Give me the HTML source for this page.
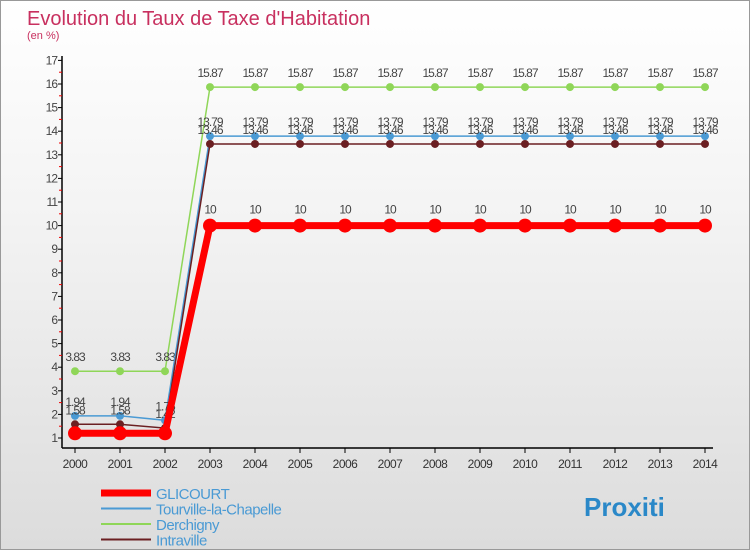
<!DOCTYPE html>
<html><head><meta charset="utf-8"><style>
body{margin:0;width:750px;height:550px;overflow:hidden;font-family:"Liberation Sans",sans-serif}
#wrap{position:relative;width:748px;height:548px;border:1px solid #999;background:linear-gradient(#fff 0%,#f3f3f3 40%,#dcdcdc 100%)}
</style></head><body>
<div id="wrap">
<svg id="c" width="748" height="548" style="position:absolute;left:0;top:0"></svg>
</div>
<script>
const years=[2000,2001,2002,2003,2004,2005,2006,2007,2008,2009,2010,2011,2012,2013,2014];
const glicourt=[1.2,1.2,1.2,10,10,10,10,10,10,10,10,10,10,10,10];
const tourville=[1.94,1.94,1.75,13.79,13.79,13.79,13.79,13.79,13.79,13.79,13.79,13.79,13.79,13.79,13.79];
const derchigny=[3.83,3.83,3.83,15.87,15.87,15.87,15.87,15.87,15.87,15.87,15.87,15.87,15.87,15.87,15.87];
const intraville=[1.58,1.58,1.42,13.46,13.46,13.46,13.46,13.46,13.46,13.46,13.46,13.46,13.46,13.46,13.46];
const yTicks=[1,2,3,4,5,6,7,8,9,10,11,12,13,14,15,16,17];
const NS='http://www.w3.org/2000/svg';
const svg=document.getElementById('c');
const X=i=>74+i*45, Y=v=>437-(v-1)*23.6;
function el(t,a,p){const e=document.createElementNS(NS,t);for(const k in a)e.setAttribute(k,a[k]);(p||svg).appendChild(e);return e;}
let t=el('text',{x:26,y:24,'font-size':20,fill:'#c8305f'});t.textContent='Evolution du Taux de Taxe d\'Habitation';

t=el('text',{x:26,y:38,'font-size':11,fill:'#c8305f'});t.textContent='(en %)';

let ax=el('line',{x1:61,y1:55,x2:61,y2:447,stroke:'#000','stroke-width':1.5});

ax=el('line',{x1:61,y1:447,x2:712,y2:447,stroke:'#000','stroke-width':1.5});

yTicks.forEach(v=>{el('line',{x1:57,x2:61,y1:Y(v),y2:Y(v),stroke:'#000'});
 if(v<17)el('line',{x1:58,x2:61,y1:Y(v+0.5),y2:Y(v+0.5),stroke:'#e00'});
 const l=el('text',{x:56,y:Y(v)+4,'font-size':12,fill:'#444','text-anchor':'end','letter-spacing':'-1'});l.textContent=v;
 });
years.forEach((y,i)=>{el('line',{x1:X(i),x2:X(i),y1:447,y2:452,stroke:'#000'});
 const l=el('text',{x:X(i),y:467,'font-size':12,fill:'#333','text-anchor':'middle','letter-spacing':'-0.5'});l.textContent=y;
 });
function series(data,color,w,r,name,labOff,showLab){
 const g=el('g',{});
 el('polyline',{points:data.map((v,i)=>X(i)+','+Y(v)).join(' '),fill:'none',stroke:color,'stroke-width':w},g);
 data.forEach((v,i)=>{const c=el('circle',{cx:X(i),cy:Y(v),r:r,fill:color},g);
  
  if(showLab(i)){const l=el('text',{x:X(i),y:Y(v)+labOff,'font-size':12,fill:'#444','text-anchor':'middle','letter-spacing':'-1'},g);l.textContent=v;}});
}
series(derchigny,'#8fd658',1.5,4,'series-derchigny',-10,()=>true);
series(tourville,'#4a9ad4',1.5,4,'series-tourville',-10,()=>true);
series(intraville,'#6b1f22',1.5,4,'series-intraville',-10,()=>true);
series(glicourt,'#ff0000',7,7,'series-glicourt',-12,i=>i>=3);
const leg=[['GLICOURT','#ff0000',7],['Tourville-la-Chapelle','#4a9ad4',2],['Derchigny','#8fd658',2],['Intraville','#6b1f22',2]];
leg.forEach((d,i)=>{const g=el('g',{});
 const y=492+i*15.5;el('line',{x1:100,x2:150,y1:y,y2:y,stroke:d[1],'stroke-width':d[2]},g);
 const l=el('text',{x:155,y:y+6,'font-size':15,fill:'#4a9ad4','letter-spacing':'-0.5'},g);l.textContent=d[0];});
t=el('text',{x:583,y:515,'font-size':26,'font-weight':'bold',fill:'#2a88c8'});t.textContent='Proxiti';

</script>
</body></html>
